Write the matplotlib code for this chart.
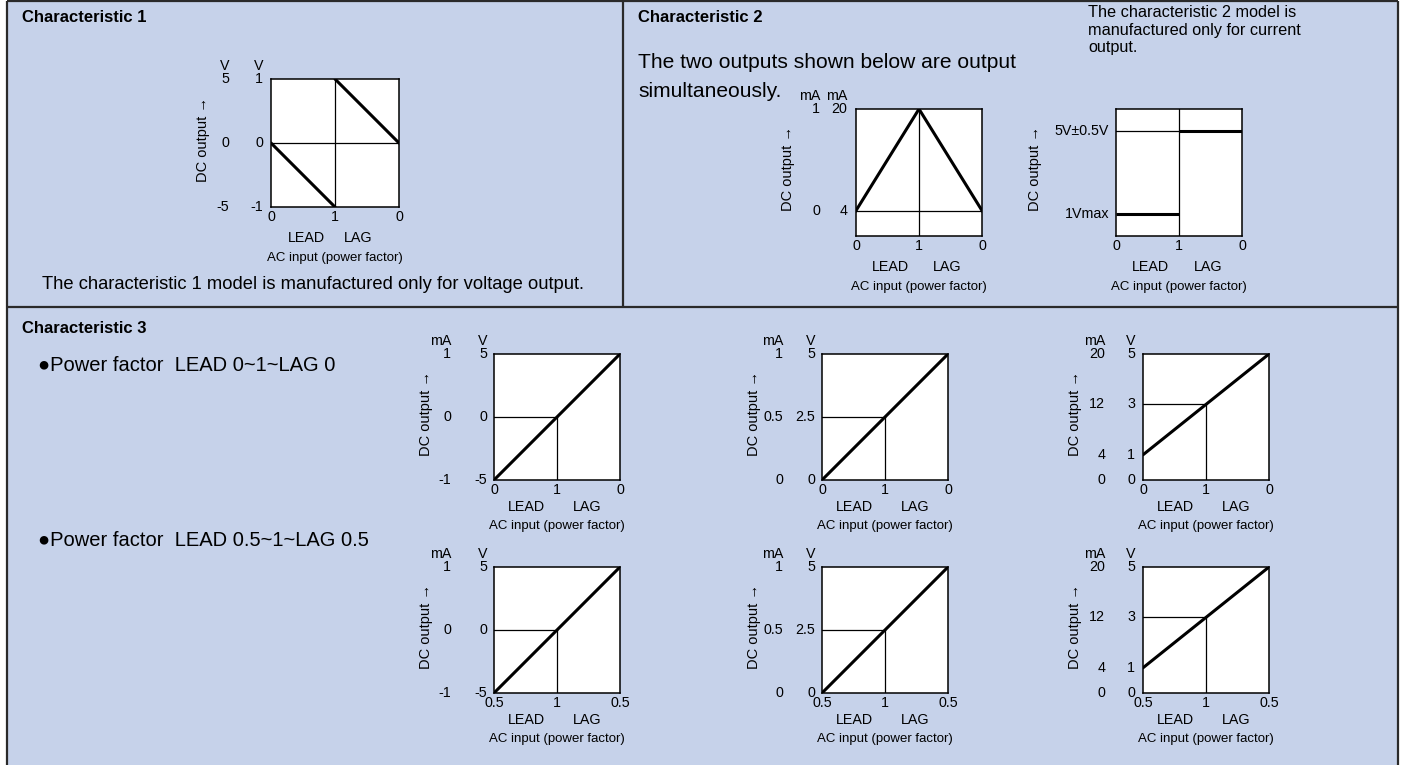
import matplotlib
matplotlib.use("Agg")
import matplotlib.pyplot as plt

plt.rcParams["font.family"] = ["Liberation Sans", "DejaVu Sans"]

# === Data ===
PF_POS = [0, 1, 2]                      # LEAD end, unity, LAG end
PF_LABELS_1 = ["0", "1", "0"]
PF_LABELS_2 = ["0.5", "1", "0.5"]

# Characteristic 1 (voltage output)
C1_TICKS = [1, 0, -1]
C1_OUTER = ["5", "0", "-5"]
C1_INNER = ["1", "0", "-1"]
C1_UNITS = ["V", "V"]
C1_LEAD_X, C1_LEAD_Y = [0, 1], [0, -1]
C1_LAG_X, C1_LAG_Y = [1, 2], [1, 0]

# Characteristic 2, left: current outputs
C2A_TICKS = [20, 4]
C2A_OUTER = ["1", "0"]
C2A_INNER = ["20", "4"]
C2A_UNITS = ["mA", "mA"]
C2A_X = [0, 1, 2]
C2A_Y = [4, 20, 4]

# Characteristic 2, right: lead/lag signal
C2B_TICKS = [5, 1]
C2B_LABELS = ["5V\u00b10.5V", "1Vmax"]
C2B_LEAD_X, C2B_LEAD_Y = [0, 1], [1, 1]
C2B_LAG_X, C2B_LAG_Y = [1, 2], [5, 5]

# Characteristic 3
C3_UNITS = ["mA", "V"]
C3A_TICKS = [5, 0, -5]
C3A_OUTER = ["1", "0", "-1"]
C3A_INNER = ["5", "0", "-5"]
C3A_Y = [-5, 5]
C3A_REF = 0

C3B_TICKS = [5, 2.5, 0]
C3B_OUTER = ["1", "0.5", "0"]
C3B_INNER = ["5", "2.5", "0"]
C3B_Y = [0, 5]
C3B_REF = 2.5

C3C_TICKS = [5, 3, 1, 0]
C3C_OUTER = ["20", "12", "4", "0"]
C3C_INNER = ["5", "3", "1", "0"]
C3C_Y = [1, 5]
C3C_REF = 3

LINE_X = [0, 2]

# === Layout ===
W, H = 1401, 765
BG = "#c6d2ea"
TICK_FS = 10.3
LABEL_FS = 9.5
THICK = 2.2
THIN = 0.9

fig = plt.figure(figsize=(W / 100, H / 100), dpi=100)
base = fig.add_axes([0, 0, 1, 1])
base.set_xlim(0, W)
base.set_ylim(H, 0)
base.axis("off")

base.add_patch(plt.Rectangle((7, 1), 1391, 780, facecolor=BG, edgecolor="none"))
for xs, ys in [([7, 1398], [1, 1]), ([7, 7], [1, H]), ([1398, 1398], [1, H]),
               ([7, 1398], [307, 307]), ([623, 623], [1, 307])]:
    base.plot(xs, ys, color="#2a2a2a", lw=1.6, solid_capstyle="butt")

base.text(22, 17, "Characteristic 1", fontsize=12, fontweight="bold", va="center")
base.text(638, 17, "Characteristic 2", fontsize=12, fontweight="bold", va="center")
base.text(22, 328, "Characteristic 3", fontsize=12, fontweight="bold", va="center")
base.text(313, 284, "The characteristic 1 model is manufactured only for voltage output.",
          fontsize=13.2, ha="center", va="center")
base.text(638, 62, "The two outputs shown below are output", fontsize=15.1, va="center")
base.text(638, 91, "simultaneously.", fontsize=15.1, va="center")
base.text(1088, 30, "The characteristic 2 model is\nmanufactured only for current\noutput.",
          fontsize=11.7, va="center", linespacing=1.2)
base.text(38, 365, "\u25cfPower factor  LEAD 0~1~LAG 0", fontsize=14.5, va="center")
base.text(38, 540, "\u25cfPower factor  LEAD 0.5~1~LAG 0.5", fontsize=14.5, va="center")


def panel(x0, y0, w, h, ylim, pf_labels, lead_x=0.54, lag_x=1.44,
          lab_dy=(11, 31, 51), dc_dx=68):
    ax = fig.add_axes([x0 / W, 1 - (y0 + h) / H, w / W, h / H])
    ax.set_facecolor("white")
    ax.set_xlim(0, 2)
    ax.set_ylim(*ylim)
    for s in ax.spines.values():
        s.set_linewidth(1.1)
    ax.set_yticks([])
    ax.set_xticks(PF_POS, pf_labels)
    ax.tick_params(axis="x", length=0, pad=2, labelsize=TICK_FS)
    tr = ax.get_xaxis_transform()
    ax.text(lead_x, -lab_dy[1] / h, "LEAD", transform=tr, ha="center", va="center", fontsize=TICK_FS)
    ax.text(lag_x, -lab_dy[1] / h, "LAG", transform=tr, ha="center", va="center", fontsize=TICK_FS)
    ax.text(1, -lab_dy[2] / h, "AC input (power factor)", transform=tr,
            ha="center", va="center", fontsize=LABEL_FS)
    ax.text(-dc_dx / w, 0.53, "DC output \u2192", transform=ax.transAxes, rotation=90,
            ha="center", va="center", fontsize=10.5)
    return ax


def ylabels(ax, w, h, ticks, labels, off, unit=None):
    tr = ax.get_yaxis_transform()
    for v, lab in zip(ticks, labels):
        ax.text(-off / w, v, lab, transform=tr, ha="right", va="center", fontsize=TICK_FS)
    if unit:
        ax.text(-off / w, 1 + 13 / h, unit, transform=ax.transAxes,
                ha="right", va="center", fontsize=TICK_FS)


# --- Characteristic 1 ---
ax = panel(271, 79, 128, 128, (-1, 1), PF_LABELS_1, lead_x=0.56, lag_x=1.36)
ax.axhline(0, color="black", lw=THIN)
ax.axvline(1, color="black", lw=THIN)
ax.plot(C1_LEAD_X, C1_LEAD_Y, color="black", lw=THICK, solid_capstyle="round")
ax.plot(C1_LAG_X, C1_LAG_Y, color="black", lw=THICK, solid_capstyle="round")
ylabels(ax, 128, 128, C1_TICKS, C1_OUTER, 42, C1_UNITS[0])
ylabels(ax, 128, 128, C1_TICKS, C1_INNER, 8, C1_UNITS[1])

# --- Characteristic 2, left ---
ax = panel(856, 109, 126, 127, (0, 20), PF_LABELS_1, lead_x=0.54, lag_x=1.44)
ax.axhline(4, color="black", lw=THIN)
ax.axvline(1, color="black", lw=THIN)
ax.plot(C2A_X, C2A_Y, color="black", lw=THICK, solid_joinstyle="miter")
ylabels(ax, 126, 127, C2A_TICKS, C2A_OUTER, 36, C2A_UNITS[0])
ylabels(ax, 126, 127, C2A_TICKS, C2A_INNER, 9, C2A_UNITS[1])

# --- Characteristic 2, right ---
ax = panel(1116, 109, 126, 127, (-0.06, 6.06), PF_LABELS_1, lead_x=0.54, lag_x=1.46,
           dc_dx=81)
ax.axhline(C2B_TICKS[0], color="black", lw=THIN)
ax.axvline(1, color="black", lw=THIN)
ax.plot(C2B_LEAD_X, C2B_LEAD_Y, color="black", lw=THICK, solid_capstyle="butt")
ax.plot(C2B_LAG_X, C2B_LAG_Y, color="black", lw=THICK, solid_capstyle="butt")
ylabels(ax, 126, 127, C2B_TICKS, C2B_LABELS, 7)

# --- Characteristic 3 ---
C3_PANELS = [
    (494, C3A_TICKS, C3A_OUTER, C3A_INNER, C3A_Y, C3A_REF, (-5, 5), 43, 7),
    (822, C3B_TICKS, C3B_OUTER, C3B_INNER, C3B_Y, C3B_REF, (0, 5), 39, 7),
    (1143, C3C_TICKS, C3C_OUTER, C3C_INNER, C3C_Y, C3C_REF, (0, 5), 38, 8),
]
for y0, pf_labels in [(354, PF_LABELS_1), (567, PF_LABELS_2)]:
    for x0, ticks, outer, inner, ly, ref, ylim, off1, off2 in C3_PANELS:
        ax = panel(x0, y0, 126, 126, ylim, pf_labels, lead_x=0.52, lag_x=1.48,
                   lab_dy=(13, 27, 46), dc_dx=68)
        ax.plot([0, 1], [ref, ref], color="black", lw=THIN)
        ax.plot([1, 1], [ylim[0], ref], color="black", lw=THIN)
        ax.plot(LINE_X, ly, color="black", lw=THICK, solid_capstyle="round")
        ylabels(ax, 126, 126, ticks, outer, off1, C3_UNITS[0])
        ylabels(ax, 126, 126, ticks, inner, off2, C3_UNITS[1])

fig.savefig("out.png", dpi=100)
